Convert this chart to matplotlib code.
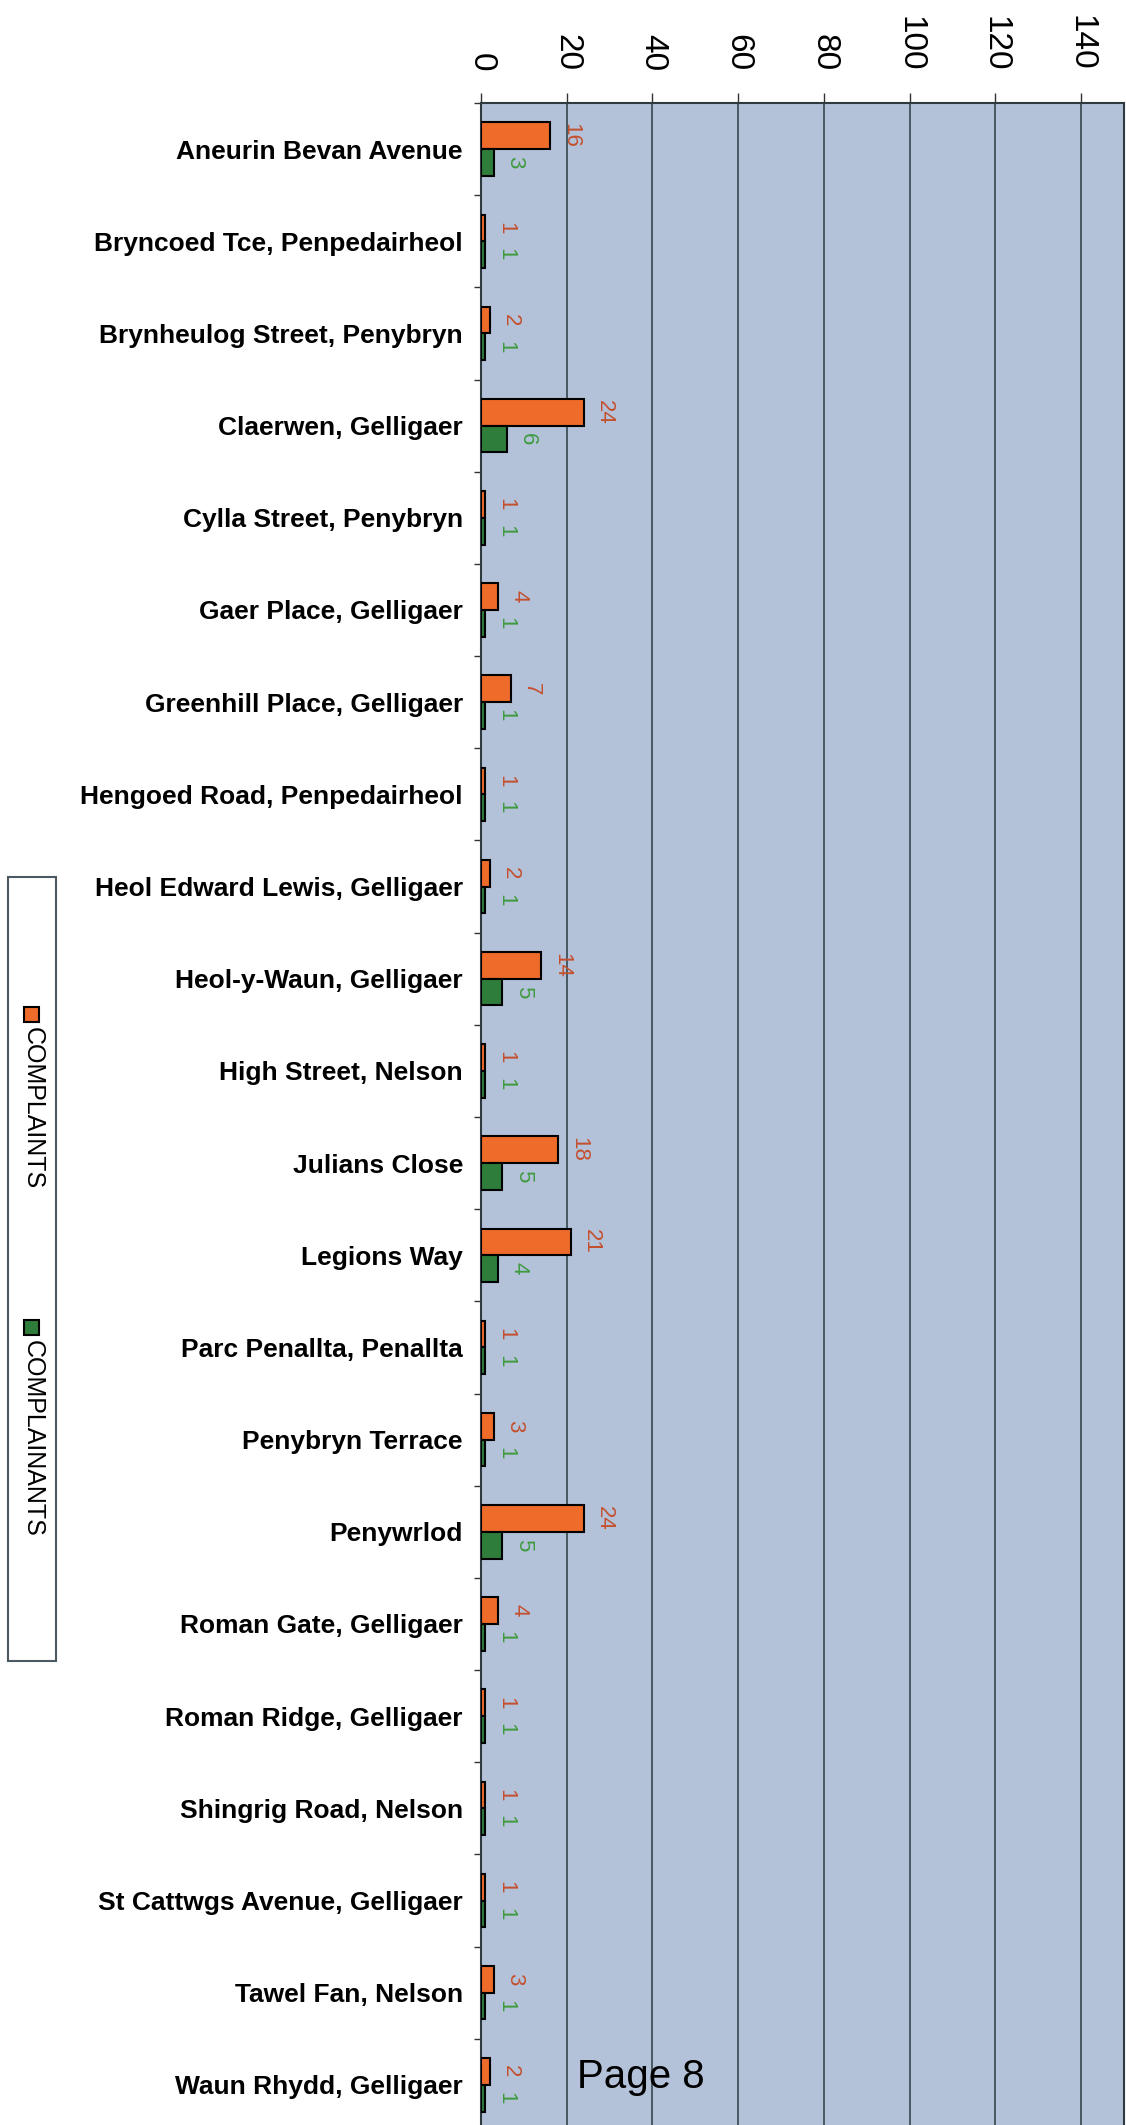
import matplotlib
matplotlib.use("Agg")
import matplotlib.pyplot as plt
from matplotlib.patches import Rectangle
import numpy as np

plt.rcParams['font.family'] = ['Liberation Sans', 'DejaVu Sans']

# datos
streets = ["Aneurin Bevan Avenue", "Bryncoed Tce, Penpedairheol",
           "Brynheulog Street, Penybryn", "Claerwen, Gelligaer",
           "Cylla Street, Penybryn", "Gaer Place, Gelligaer",
           "Greenhill Place, Gelligaer", "Hengoed Road, Penpedairheol",
           "Heol Edward Lewis, Gelligaer", "Heol-y-Waun, Gelligaer",
           "High Street, Nelson", "Julians Close", "Legions Way",
           "Parc Penallta, Penallta", "Penybryn Terrace", "Penywrlod",
           "Roman Gate, Gelligaer", "Roman Ridge, Gelligaer",
           "Shingrig Road, Nelson", "St Cattwgs Avenue, Gelligaer",
           "Tawel Fan, Nelson", "Waun Rhydd, Gelligaer"]
complaints = [16, 1, 2, 24, 1, 4, 7, 1, 2, 14, 1, 18, 21, 1, 3, 24, 4, 1, 1, 1, 3, 2]
complainants = [3, 1, 1, 6, 1, 1, 1, 1, 1, 5, 1, 5, 4, 1, 1, 5, 1, 1, 1, 1, 1, 1]
xticks = [0, 20, 40, 60, 80, 100, 120, 140]
series_names = ["COMPLAINTS", "COMPLAINANTS"]

orange = '#EE6B2A'
green = '#2F7D3A'
W, H = 1126, 2125

fig = plt.figure(figsize=(W / 100, H / 100), dpi=100)
fig.patch.set_facecolor('white')
# ejes: izquierda 481 px, arriba 103 px, abajo fuera de la pagina
ax = fig.add_axes([481 / W, 1 - 2131 / H, 643 / W, (2131 - 103) / H])
ax.set_facecolor('#B3C2D9')

y = np.arange(len(streets))
h = 0.29
ax.barh(y - h / 2, complaints, height=h, color=orange, edgecolor='black',
        linewidth=1.5, zorder=3)
ax.barh(y + h / 2, complainants, height=h, color=green, edgecolor='black',
        linewidth=1.5, zorder=3)

# etiquetas de valor giradas
for i in range(len(streets)):
    ax.annotate(str(complaints[i]), xy=(complaints[i], i - h / 2), xytext=(11, 0),
                textcoords='offset points', rotation=-90, rotation_mode='anchor',
                ha='center', va='baseline', fontsize=16, color='#C4502F', zorder=4)
    ax.annotate(str(complainants[i]), xy=(complainants[i], i + h / 2), xytext=(11, 0),
                textcoords='offset points', rotation=-90, rotation_mode='anchor',
                ha='center', va='baseline', fontsize=16, color='#3F9A3F', zorder=4)

ax.set_xlim(0, 150)
ax.set_ylim(len(streets) - 0.5, -0.5)

ax.xaxis.tick_top()
ax.set_xticks(xticks)
ax.set_xticklabels([str(t) for t in xticks], rotation=-90, fontsize=24)
ax.tick_params(axis='x', length=7, width=1, pad=16, color='#333333')

ax.set_yticks(y)
ax.set_yticklabels(streets, fontsize=19, fontweight='bold')
ax.tick_params(axis='y', which='major', length=0, pad=13)
ax.set_yticks(np.arange(len(streets) + 1) - 0.5, minor=True)
ax.tick_params(axis='y', which='minor', length=5, width=1, color='#333333')

ax.grid(axis='x', color='#34484F', linewidth=1.2, zorder=1)
ax.set_axisbelow(True)
for s in ax.spines.values():
    s.set_color('#2E3A40')
    s.set_linewidth(1.5)

# leyenda girada a mano
fig.add_artist(Rectangle((8 / W, 1 - 1661 / H), 48 / W, (1661 - 877) / H,
                         transform=fig.transFigure, facecolor='white',
                         edgecolor='#4A5A60', linewidth=1.5))
for name, col, top in zip(series_names, [orange, green], [1007, 1320]):
    fig.add_artist(Rectangle((24 / W, 1 - (top + 15) / H), 15 / W, 15 / H,
                             transform=fig.transFigure, facecolor=col,
                             edgecolor='black', linewidth=1.5))
    fig.text(33 / W, 1 - (top + 20) / H, name, rotation=-90, rotation_mode='anchor',
             ha='left', va='center', fontsize=18)

fig.text(577 / W, 1 - 2088 / H, 'Page 8', fontsize=29, ha='left', va='baseline')

plt.savefig('out.png', dpi=100)
